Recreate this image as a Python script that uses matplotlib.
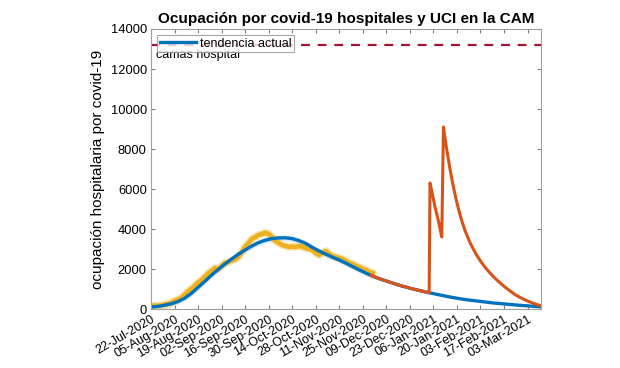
import numpy as np
import matplotlib.pyplot as plt
import matplotlib.dates as mdates

plt.rcParams['font.family'] = ['Liberation Sans', 'DejaVu Sans']

start = np.datetime64('2020-07-22')

# datos reales de ocupacion (dias desde 22-Jul-2020)
real_days = np.arange(0, 133, 2)
real_vals = [150, 170, 160, 190, 220, 260, 320, 400, 480, 560, 720, 880, 1000, 1150,
             1320, 1450, 1600, 1780, 1900, 2050, 2000, 2150, 2300, 2350, 2420, 2480,
             2600, 2850, 3100, 3300, 3500, 3600, 3700, 3750, 3820, 3750, 3600, 3400,
             3300, 3200, 3150, 3100, 3120, 3100, 3150, 3100, 3050, 3000, 2950, 2800,
             2700, 2800, 2900, 2750, 2650, 2600, 2550, 2500, 2400, 2300, 2250, 2150,
             2100, 2000, 1950, 1850, 1800]

# tendencia actual
trend_days = np.arange(0, 233, 4)
trend_vals = [100, 130, 190, 260, 370, 540, 780, 1080, 1380, 1690, 1980, 2250, 2500,
              2740, 2950, 3150, 3320, 3440, 3520, 3555, 3560, 3520, 3420, 3280, 3080,
              2900, 2740, 2590, 2450, 2290, 2120, 1950, 1790, 1640, 1510, 1400, 1290,
              1180, 1090, 1000, 920, 840, 770, 700, 630, 570, 510, 460, 420, 380, 340,
              300, 270, 240, 210, 180, 160, 130, 110]

# escenario con picos
scen_days = [131, 136, 140, 144, 148, 152, 156, 160, 164, 165.5, 166, 167, 168, 169,
             170, 171, 172, 173, 174, 175, 176, 177, 178, 179, 180, 181, 183, 185, 187,
             190, 193, 196, 199, 202, 205, 208, 211, 214, 217, 220, 223, 226, 229, 232]
scen_vals = [1680, 1510, 1400, 1290, 1180, 1090, 1000, 920, 840, 810, 6300, 5900, 5500,
             5100, 4750, 4400, 4000, 3600, 9100, 8500, 7950, 7450, 6950, 6500, 6080,
             5680, 4980, 4380, 3880, 3280, 2800, 2400, 2060, 1770, 1510, 1280, 1070,
             880, 700, 560, 440, 330, 240, 160]

camas = 13200
band = 150

def to_dates(days):
    return start + (np.array(days) * 24).astype('timedelta64[h]')

fig = plt.figure(figsize=(6.2, 3.68), dpi=100)
ax = fig.add_axes([0.2435, 0.1603, 0.629, 0.7609])

td = to_dates(trend_days)
tv = np.array(trend_vals)
ax.fill_between(td[:34], tv[:34] - band, tv[:34] + band, color='#c9d9ea', alpha=0.6, lw=0)
ax.plot(to_dates(real_days), real_vals, color='#EDB120', lw=5.5, alpha=0.35,
        solid_capstyle='round')
ax.plot(to_dates(real_days), real_vals, color='#EDB120', lw=3.3)
ax.plot(td, tv, color='#0072BD', lw=2.4, label='tendencia actual')
ax.plot(to_dates(scen_days), scen_vals, color='#D95319', lw=2.2)
ax.axhline(camas, color='#A2142F', lw=1.6, ls=(0, (4, 3.5)))
ax.text(to_dates([3])[0], 13000, 'camas hospital', fontsize=9, va='top', ha='left')

ax.set_ylim(0, 14000)
ax.set_xlim(to_dates([0])[0], to_dates([232])[0])
ax.set_yticks(np.arange(0, 14001, 2000))
ax.set_xticks(to_dates(np.arange(0, 225, 14)))
ax.xaxis.set_major_formatter(mdates.DateFormatter('%d-%b-%Y'))
ax.tick_params(direction='in', length=3, top=True, right=True, labelsize=9.3,
               color='#808080', pad=3)
ax.tick_params(axis='x', labelsize=9)
plt.setp(ax.get_xticklabels(), rotation=30, ha='right', rotation_mode='anchor')
for s in ax.spines.values():
    s.set_color('#a0a0a0')
    s.set_linewidth(0.8)

ax.set_ylabel('ocupación hospitalaria por covid-19', fontsize=11, labelpad=4)
ax.set_title('Ocupación por covid-19 hospitales y UCI en la CAM', fontsize=11,
             fontweight='bold', pad=4)
leg = ax.legend(loc='upper left', fontsize=9, frameon=True, fancybox=False,
                borderaxespad=0.5, handlelength=2.9, borderpad=0.2,
                handletextpad=0.3)
leg.get_frame().set_edgecolor('#909090')
leg.get_frame().set_linewidth(0.8)

fig.savefig('out.png', dpi=100)
